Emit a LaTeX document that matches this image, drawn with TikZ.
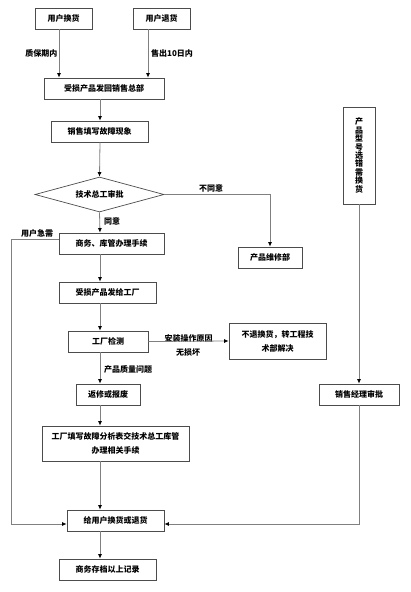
\documentclass[tikz,border=0pt]{standalone}
\usepackage{fontspec}
\newfontfamily\cjk{Noto Sans CJK SC}
\usetikzlibrary{arrows.meta,shapes.geometric}
\begin{document}
\begin{tikzpicture}[x=1pt,y=-1pt,
  every node/.style={font=\cjk\bfseries\fontsize{8}{12}\selectfont, inner sep=0pt},
  box/.style={draw=black!70, line width=0.7pt, minimum height=21pt, align=center},
  lbl/.style={},
  ln/.style={draw=black!50, line width=0.8pt},
  arr/.style={ln, -{Latex[length=4.5pt,width=4pt,color=black]}}]
\fill[white] (0,0) rectangle (410,592);
\useasboundingbox (0,0) rectangle (410,592);
% nodes
\node[box, minimum width=57pt] (a) at (63.5,18.5) {用户换货};
\node[box, minimum width=57pt] (b) at (161.5,18.5) {用户退货};
\node[box, minimum width=120pt] (c) at (104,88.5) {受损产品发回销售总部};
\node[box, minimum width=97pt] (d) at (99.5,131.5) {销售填写故障现象};
\node[draw=black!70, line width=0.7pt, diamond, aspect=3.7, minimum width=129pt, minimum height=35pt] (e) at (99.5,194.5) {技术总工审批};
\node[box, minimum width=64pt] (f) at (270,257.5) {产品维修部};
\node[box, minimum width=105pt] (g) at (111.5,243.5) {商务、库管办理手续};
\node[box, minimum width=97pt] (h) at (107.5,292.5) {受损产品发给工厂};
\node[box, minimum width=80pt] (i) at (108,341.5) {工厂检测};
\node[box, minimum width=97pt, minimum height=36pt, font=\cjk\bfseries\fontsize{8}{14}\selectfont] (j) at (277.5,341) {不退换货，转工程技\\术部解决};
\node[box, minimum width=64pt] (k) at (108,394.5) {返修或报废};
\node[box, minimum width=147pt, minimum height=35pt, font=\cjk\bfseries\fontsize{8}{14}\selectfont] (l) at (115.5,443.5) {工厂填写故障分析表交技术总工库管\\办理相关手续};
\node[box, minimum width=97pt] (m) at (115.5,520.5) {给用户换货或退货};
\node[box, minimum width=97pt] (n) at (107.5,569.5) {商务存档以上记录};
\node[box, minimum width=32pt, minimum height=97pt, font=\cjk\bfseries\fontsize{8}{8.4}\selectfont] (r1) at (359,155.5) {产\\品\\型\\号\\选\\错\\需\\换\\货};
\node[box, minimum width=80pt] (r2) at (359,394.5) {销售经理审批};
% helper coordinates
\coordinate (xa) at (59,0);
\coordinate (xb) at (148,0);
\coordinate (xm) at (100,0);
\coordinate (xl) at (11,0);
\coordinate (yg) at (0,239);
\coordinate (ym) at (0,524);
\coordinate (ne) at (270,194.5);
\coordinate (lg) at (11,239);
\coordinate (lm) at (11,524);
\coordinate (rm) at (359,524);
% labels
\node[anchor=east] (la) at (57.5,53) {质保期内};
\node[anchor=west] (lb) at (151,53) {售出10日内};
\node (lno) at (211,188) {不同意};
\node[anchor=west] (lyes) at (104,221) {同意};
\node (lurg) at (37,233) {用户急需};
\node (linst) at (188.5,338) {安装操作原因};
\node (lnod) at (188,352) {无损坏};
\node[anchor=west] (lq) at (104,369) {产品质量问题};
% connectors
\draw[arr] (a.south -| xa) -- (c.north -| xa);
\draw[arr] (b.south -| xb) -- (c.north -| xb);
\draw[arr] (c.south -| xm) -- (d.north -| xm);
\draw[arr] (d.south -| xm) -- (e.north);
\draw[arr] (e.east) -- (ne) -- (f.north);
\draw[arr] (e.south) -- (g.north -| xm);
\draw[arr] (g.south -| xm) -- (h.north -| xm);
\draw[arr] (h.south -| xm) -- (i.north -| xm);
\draw[arr] (i.east) -- (j.west);
\draw[arr] (i.south -| xm) -- (k.north -| xm);
\draw[arr] (k.south -| xm) -- (l.north -| xm);
\draw[arr] (l.south -| xm) -- (m.north -| xm);
\draw[arr] (m.south -| xm) -- (n.north -| xm);
\draw[arr] (g.west |- yg) -- (lg) -- (lm) -- (m.west |- ym);
\draw[arr] (r1.south) -- (r2.north);
\draw[arr] (r2.south) -- (rm) -- (m.east |- ym);
\end{tikzpicture}
\end{document}
